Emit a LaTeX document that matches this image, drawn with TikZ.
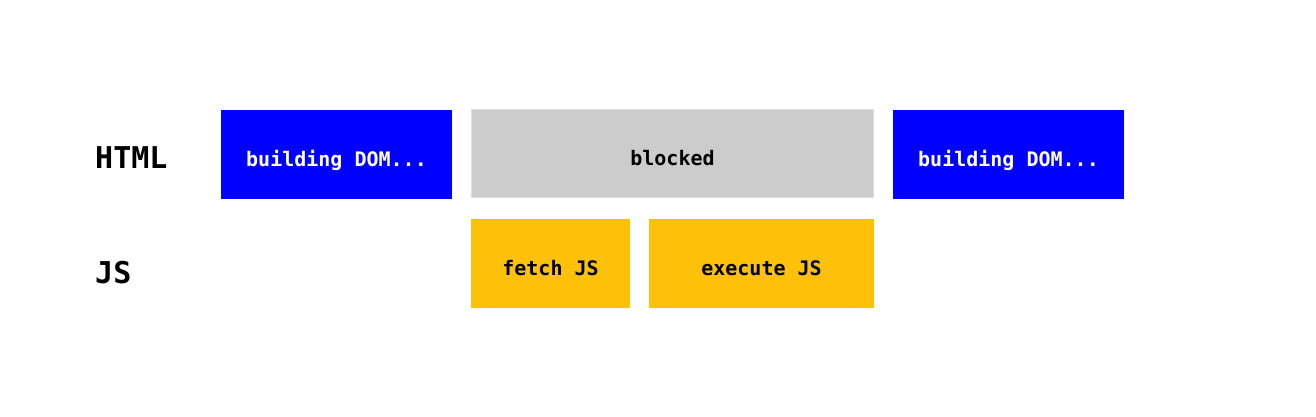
\documentclass[tikz,border=0pt]{standalone}
\usepackage{fontspec}
\newfontfamily\monob{DejaVu Sans Mono}
\definecolor{domblue}{HTML}{0000FF}
\definecolor{blockgray}{HTML}{CCCCCC}
\definecolor{blockedge}{HTML}{DEDEDE}
\definecolor{jsyellow}{HTML}{FDC10A}
\begin{document}
\begin{tikzpicture}[x=1pt,y=-1pt,
  box/.style={draw=none,inner sep=0pt,outer sep=0pt},
  boxtext/.style={font=\monob\bfseries\fontsize{20}{20}\selectfont,anchor=base,inner sep=0pt},
  rowlabel/.style={font=\monob\bfseries\fontsize{30}{30}\selectfont,anchor=base west,inner sep=0pt}]
\useasboundingbox (0,0) rectangle (1316,417);
\fill[white] (0,0) rectangle (1316,417);
% boxes
\fill[domblue] (221,110) rectangle (452,199);
\filldraw[fill=blockgray,draw=blockedge,line width=1pt] (471.5,109.5) rectangle (873.5,197.5);
\fill[domblue] (893,110) rectangle (1124,199);
\fill[jsyellow] (471,219) rectangle (630,307.5);
\fill[jsyellow] (649,219) rectangle (874,307.5);
% texts
\node[boxtext,text=white] (dom1) at (336.5,166) {building DOM...};
\node[boxtext,text=black] (blocked) at (672.5,165) {blocked};
\node[boxtext,text=white] (dom2) at (1008.5,166) {building DOM...};
\node[boxtext,text=black] (fetch) at (550.5,275) {fetch JS};
\node[boxtext,text=black] (exec) at (761.5,275) {execute JS};
\node[rowlabel] (html) at (95,168) {HTML};
\node[rowlabel] (js) at (95,283) {JS};
\end{tikzpicture}
\end{document}
